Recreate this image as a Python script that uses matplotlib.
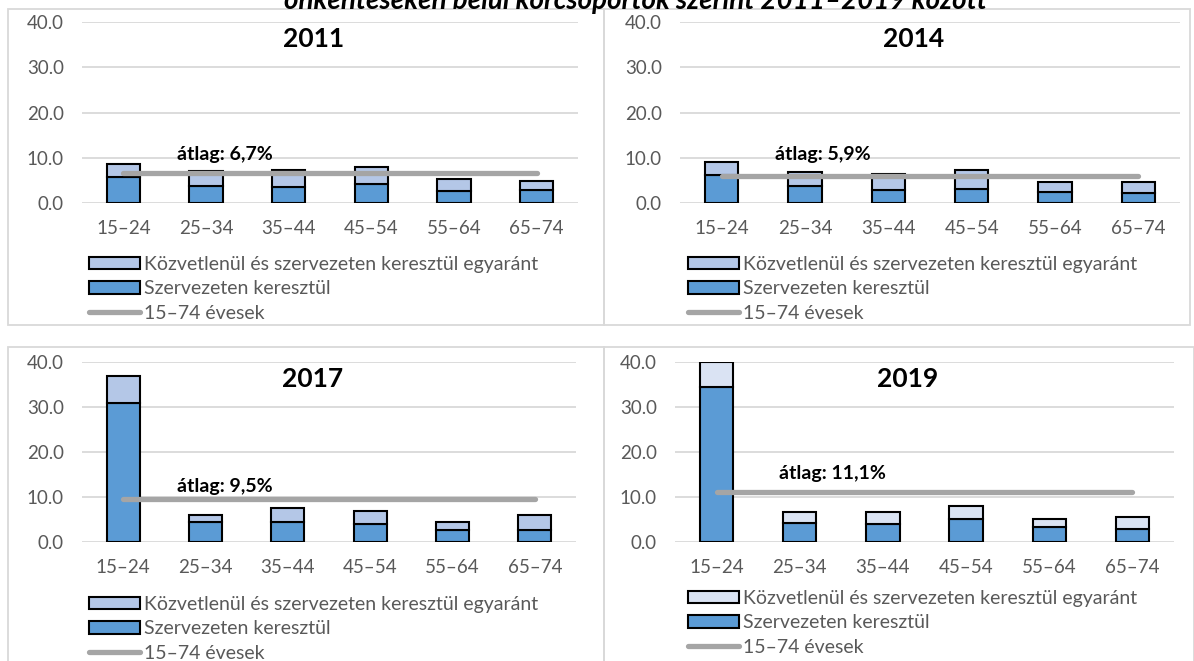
import matplotlib
matplotlib.use("Agg")
import matplotlib.pyplot as plt
from matplotlib.patches import Rectangle, Patch
from matplotlib.lines import Line2D

plt.rcParams["font.family"] = ["Lato", "DejaVu Sans"]

W, H = 1194, 661

age_groups = ["15–24", "25–34", "35–44", "45–54", "55–64", "65–74"]
years = ["2011", "2014", "2017", "2019"]

# szervezeten keresztül (alsó szegmens)
org_2011 = [5.7, 3.8, 3.6, 4.2, 2.6, 2.9]
org_2014 = [6.1, 3.75, 2.9, 3.2, 2.35, 2.2]
org_2017 = [30.8, 4.5, 4.5, 3.95, 2.6, 2.7]
org_2019 = [34.5, 4.3, 3.9, 5.2, 3.25, 2.95]

# közvetlenül és szervezeten keresztül egyaránt (felső szegmens)
both_2011 = [3.0, 3.2, 3.7, 3.7, 2.7, 2.0]
both_2014 = [2.9, 3.05, 3.6, 4.15, 2.25, 2.4]
both_2017 = [6.0, 1.6, 3.1, 3.05, 1.9, 3.4]
both_2019 = [5.4, 2.35, 2.75, 2.8, 1.95, 2.55]

averages = [6.7, 5.9, 9.5, 11.1]
avg_labels = ["átlag: 6,7%", "átlag: 5,9%", "átlag: 9,5%", "átlag: 11,1%"]

org_all = [org_2011, org_2014, org_2017, org_2019]
both_all = [both_2011, both_2014, both_2017, both_2019]

dark_blue = "#5B9BD5"
light_colors = ["#B4C7E7", "#B4C7E7", "#B4C7E7", "#DAE3F3"]
avg_color = "#A5A5A5"
grid_color = "#D9D9D9"
text_gray = "#595959"


def px_box(x0, y0, x1, y1):
    # pixel box (top-left origin) -> figure fraction [l, b, w, h]
    return [x0 / W, 1 - y1 / H, (x1 - x0) / W, (y1 - y0) / H]


fig = plt.figure(figsize=(W / 100, H / 100), dpi=100)

# panel frames
frames = [(8, 9, 604, 325), (604, 9, 1190, 325), (8, 347, 604, 670), (604, 347, 1194, 670)]
for x0, y0, x1, y1 in frames:
    l, b, w, h = px_box(x0, y0, x1, y1)
    fig.add_artist(Rectangle((l, b), w, h, transform=fig.transFigure,
                             facecolor="none", edgecolor=grid_color, lw=1.3))

axes_px = [(82, 22, 578, 203), (680, 22, 1180, 203), (82, 362, 576, 542), (675, 362, 1174, 542)]
legend_px = [(89, 256), (688, 256), (89, 596), (688, 590)]
avg_pos = [(0.65, 10.8), (0.64, 10.8), (0.65, 12.4), (0.75, 15.3)]

x = list(range(len(age_groups)))
for i, year in enumerate(years):
    ax = fig.add_axes(px_box(*axes_px[i]))
    org = org_all[i]
    both = both_all[i]
    ax.bar(x, org, width=0.4, color=dark_blue, edgecolor="black", lw=1.5, zorder=2)
    ax.bar(x, both, bottom=org, width=0.4, color=light_colors[i],
           edgecolor="black", lw=1.5, zorder=2)
    ax.plot(x, [averages[i]] * len(x), color=avg_color, lw=3.8,
            solid_capstyle="round", zorder=3)
    ax.text(avg_pos[i][0], avg_pos[i][1], avg_labels[i], fontsize=14,
            fontweight="bold", va="center", ha="left", zorder=4)
    ax.text(2.3, 36.2, year, fontsize=19, fontweight="bold", ha="center", va="center")

    ax.set_xlim(-0.5, 5.5)
    ax.set_ylim(0, 40)
    ax.set_yticks([0, 10, 20, 30, 40])
    ax.set_yticklabels([f"{v:.1f}" for v in [0, 10, 20, 30, 40]])
    ax.set_xticks(x)
    ax.set_xticklabels(age_groups)
    ax.tick_params(axis="both", length=0, labelsize=13.5, labelcolor=text_gray)
    ax.tick_params(axis="x", pad=12)
    ax.tick_params(axis="y", pad=13)
    ax.grid(axis="y", color=grid_color, lw=1.3, zorder=0)
    ax.set_axisbelow(True)
    for s in ax.spines.values():
        s.set_visible(False)

    handles = [
        Patch(facecolor=light_colors[i], edgecolor="black", lw=1.5),
        Patch(facecolor=dark_blue, edgecolor="black", lw=1.5),
        Line2D([0], [0], color=avg_color, lw=3.8, solid_capstyle="round"),
    ]
    labels = ["Közvetlenül és szervezeten keresztül egyaránt", "Szervezeten keresztül", "15–74 évesek"]
    lx, ly = legend_px[i]
    fig.legend(handles, labels, loc="upper left", bbox_to_anchor=(lx / W, 1 - ly / H),
               frameon=False, fontsize=14, labelcolor=text_gray, borderpad=0,
               borderaxespad=0, handlelength=2.6, handleheight=0.6,
               handletextpad=0.25, labelspacing=0.38)

fig.text(635 / W, 1 - 9 / H, "önkénteseken belül korcsoportok szerint 2011–2019 között",
         fontsize=20, fontweight="bold", fontstyle="italic", ha="center", va="baseline")

fig.savefig("out.png", dpi=100)
